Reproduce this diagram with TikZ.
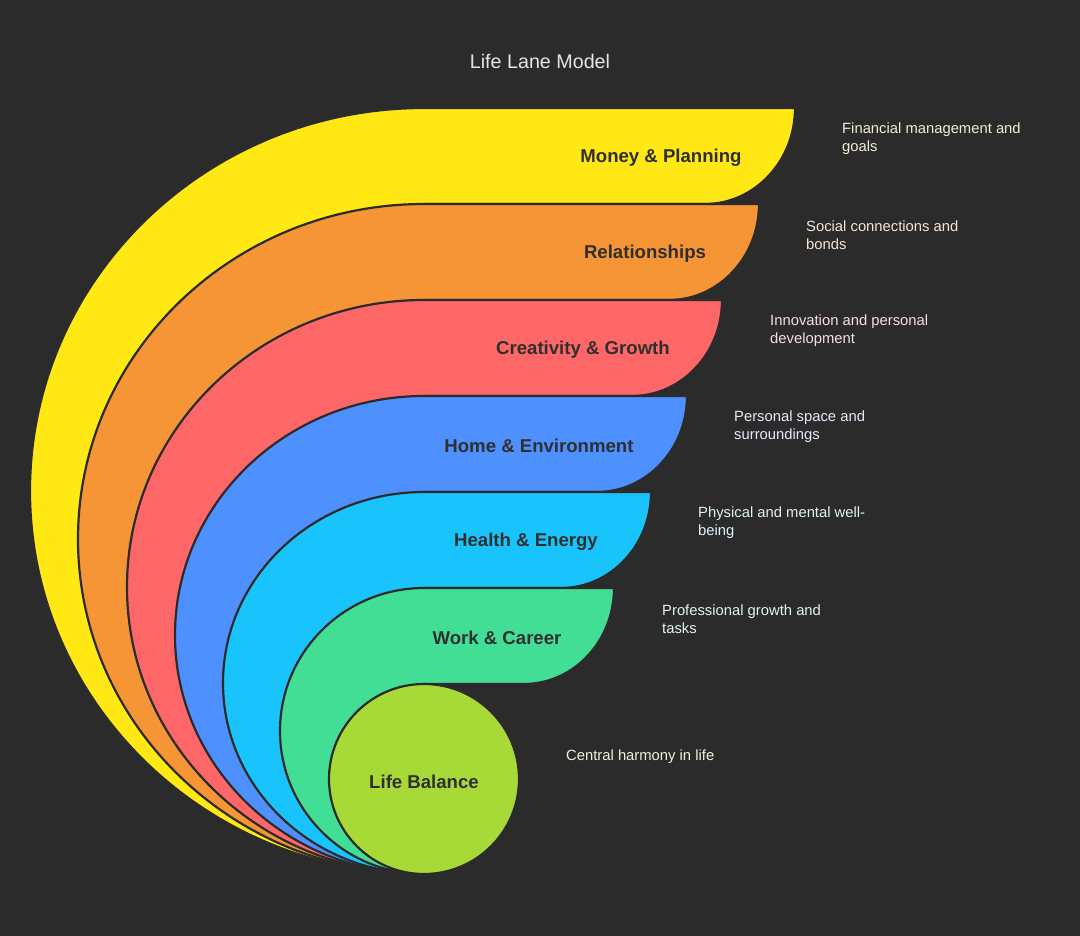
\documentclass[tikz,border=0pt]{standalone}
\usepackage{fontspec}
\setmainfont{Liberation Sans}
\definecolor{bg}{HTML}{2B2B2B}
\definecolor{cY}{HTML}{FFE814}
\definecolor{cO}{HTML}{F69536}
\definecolor{cR}{HTML}{FD6767}
\definecolor{cB}{HTML}{4D90FE}
\definecolor{cC}{HTML}{19C4FC}
\definecolor{cG}{HTML}{43DE95}
\definecolor{cL}{HTML}{A8DA37}
\definecolor{tY}{HTML}{F5EDCF}
\definecolor{tO}{HTML}{F6E6D6}
\definecolor{tR}{HTML}{F7DFDF}
\definecolor{tB}{HTML}{E3EBF8}
\definecolor{tC}{HTML}{E0F1F8}
\definecolor{tG}{HTML}{DFF6E9}
\definecolor{tL}{HTML}{EEF5D8}
\definecolor{lbl}{HTML}{2F2F2F}
\newcommand\lanefill[6]{%
  \filldraw[lanestyle, fill=#1] (424,874)
    arc[start angle=90, end angle=270, x radius=#5, y radius=#6]
    -- (#3,#2) arc[start angle=0, end angle=90, x radius=90, y radius=96]
    -- (424,{#2+96}) -- cycle;
}
\tikzset{
  lanestyle/.style={draw=bg, line width=2.2pt, line join=round},
  lanelabel/.style={font=\fontsize{18.6}{22}\selectfont\bfseries, text=lbl, inner sep=0pt},
  desc/.style={font=\fontsize{14.8}{18}\selectfont, anchor=west, align=left, inner sep=0pt}
}
\begin{document}
\begin{tikzpicture}[x=1pt,y=-1pt]
\useasboundingbox (0,0) rectangle (1080,936);
\fill[bg] (0,0) rectangle (1080,936);

\node[font=\fontsize{19.7}{24}\selectfont, text=white!90!black, inner sep=0pt] (title) at (540,61) {Life Lane Model};

\lanefill{cY}{108}{795}{}{394}{383}
\lanefill{cO}{204}{759}{}{346}{335}
\lanefill{cR}{300}{722}{}{297}{287}
\lanefill{cB}{396}{687}{}{249}{239}
\lanefill{cC}{492}{651}{}{201}{191}
\lanefill{cG}{588}{614}{}{144}{143}
\filldraw[lanestyle, fill=cL] (424,779) circle[radius=95];

\node[lanelabel] (money) at (661,158) {Money \& Planning};
\node[lanelabel] (rel) at (645,254) {Relationships};
\node[lanelabel] (crea) at (583,350) {Creativity \& Growth};
\node[lanelabel] (home) at (539,446) {Home \& Environment};
\node[lanelabel] (health) at (526,542) {Health \& Energy};
\node[lanelabel] (work) at (497,638) {Work \& Career};
\node[lanelabel] (life) at (424,782) {Life Balance};

\node[desc, text=tY] (dmoney) at (842,139) {Financial management and\\goals};
\node[desc, text=tO] (drel) at (806,235) {Social connections and\\bonds};
\node[desc, text=tR] (dcrea) at (770,331) {Innovation and personal\\development};
\node[desc, text=tB] (dhome) at (734,427) {Personal space and\\surroundings};
\node[desc, text=tC] (dhealth) at (698,523) {Physical and mental well-\\being};
\node[desc, text=tG] (dwork) at (662,619) {Professional growth and\\tasks};
\node[desc, text=tL] (dlife) at (566,757) {Central harmony in life};
\end{tikzpicture}
\end{document}
